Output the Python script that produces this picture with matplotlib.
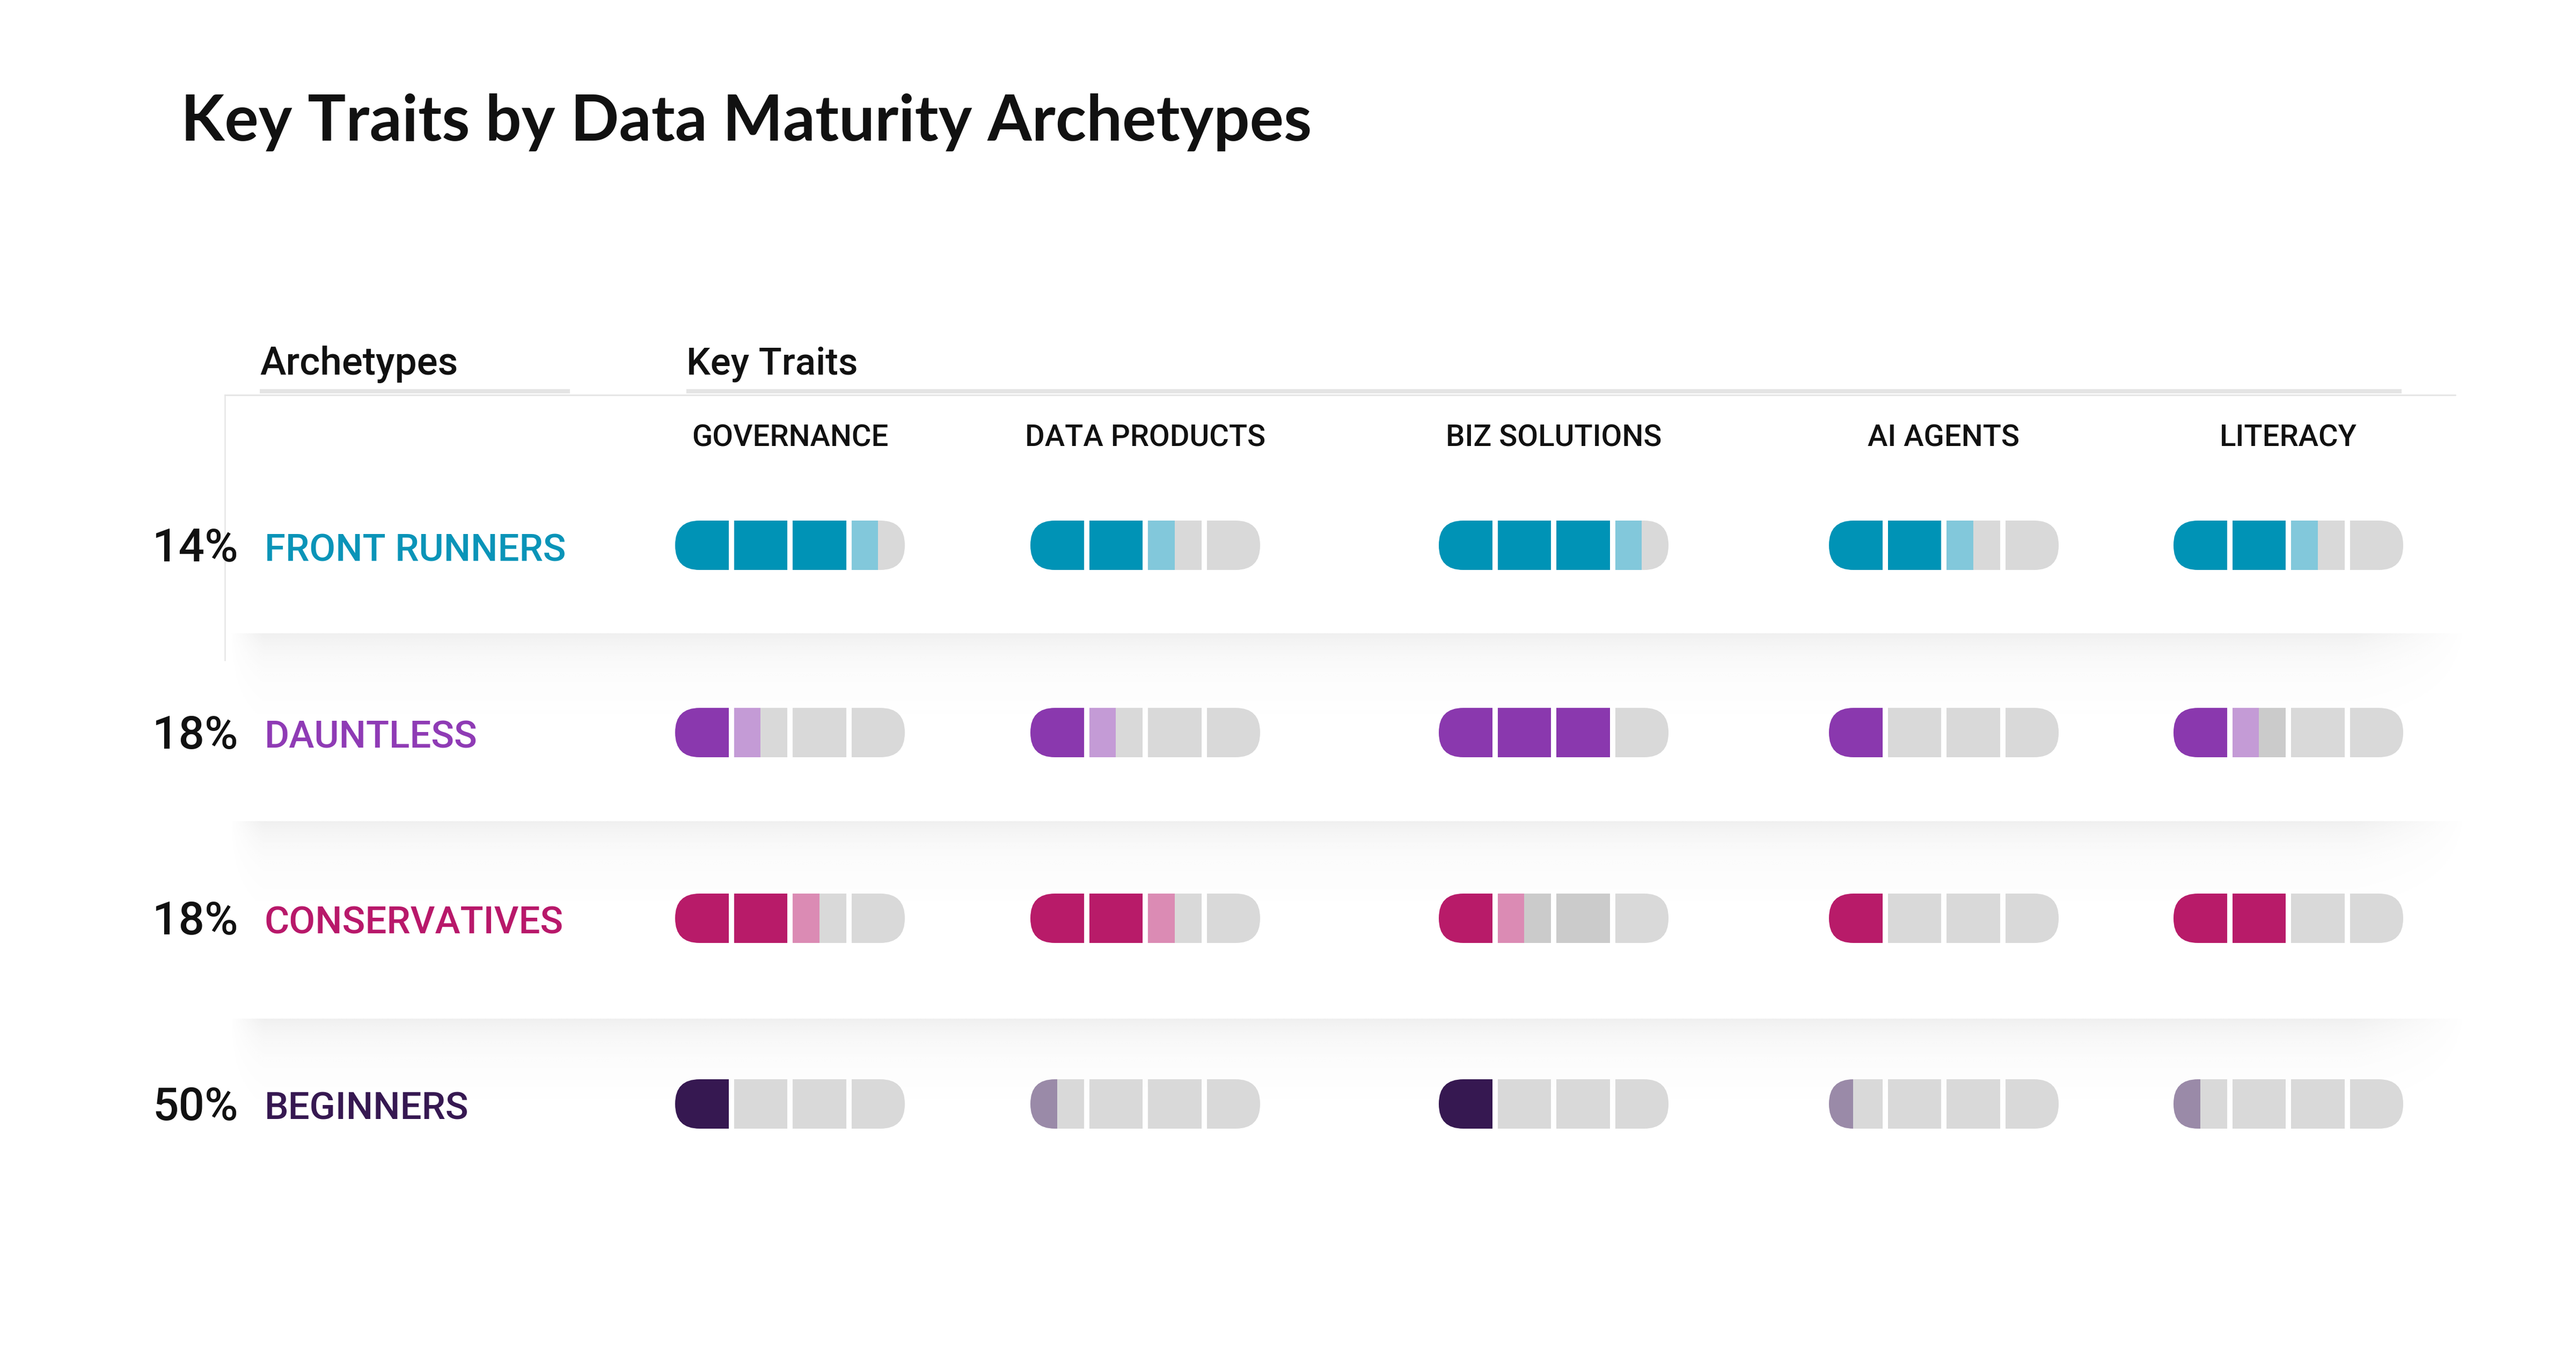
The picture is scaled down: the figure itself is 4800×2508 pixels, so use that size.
import matplotlib.pyplot as plt
from matplotlib.patches import FancyBboxPatch, Rectangle
import numpy as np

# canvas in pixels
W_PX, H_PX = 4800, 2508

# data
archetypes = ['FRONT RUNNERS', 'DAUNTLESS', 'CONSERVATIVES', 'BEGINNERS']
shares = ['14%', '18%', '18%', '50%']
traits = ['GOVERNANCE', 'DATA PRODUCTS', 'BIZ SOLUTIONS', 'AI AGENTS', 'LITERACY']

# score per archetype, out of 4 blocks (fractional part drawn in the light shade)
governance = [3.5, 1.5, 2.5, 1.0]
data_products = [2.5, 1.5, 2.5, 0.5]
biz_solutions = [3.5, 3.0, 1.5, 1.0]
ai_agents = [2.5, 1.0, 1.0, 0.45]
literacy = [2.5, 1.5, 2.0, 0.5]
scores = [governance, data_products, biz_solutions, ai_agents, literacy]

# blocks that are drawn in a slightly darker grey in the original: (row, col) -> blocks
darker_grey = {(1, 4): [1], (2, 2): [1, 2]}

dark_colors = ['#0093b6', '#8a38ae', '#b81b69', '#361851']
light_colors = ['#82c8db', '#c49bd6', '#db8bb4', '#9a8aa8']
name_colors = ['#0a94b8', '#8f3bb5', '#b8186a', '#361851']
GREY = '#d9d9d9'
GREY2 = '#cbcbcb'

# layout
row_y = [1016, 1365, 1711, 2057]
col_x = [1258, 1920, 2681, 3408, 4050]
PILL_W = 428
PILL_H = 92
GAP = 10
BLOCKS = 4

TITLE_FONT = 'Lato'
FONT = 'Roboto'


def draw_pill(ax, x0, yc, score, dark, light, greys):
    '''Draws one rounded pill made of 4 blocks'''
    clip = FancyBboxPatch((x0, yc - PILL_H / 2), PILL_W, PILL_H,
                          boxstyle='round,pad=0,rounding_size=%f' % (PILL_H / 2 - 0.5),
                          fc='none', ec='none')
    ax.add_patch(clip)
    seg_w = (PILL_W - (BLOCKS - 1) * GAP) / BLOCKS
    for i in range(BLOCKS):
        sx = x0 + i * (seg_w + GAP)
        fill = min(max(score - i, 0), 1)
        if fill >= 1:
            parts = [(sx, seg_w, dark)]
        elif fill > 0:
            parts = [(sx, seg_w * fill, light), (sx + seg_w * fill, seg_w * (1 - fill), greys[i])]
        else:
            parts = [(sx, seg_w, greys[i])]
        for px, pw, c in parts:
            r = Rectangle((px, yc - PILL_H / 2), pw, PILL_H, fc=c, ec='none', zorder=3)
            r.set_clip_path(clip)
            ax.add_patch(r)


def shadow(ax, y0, h=150):
    '''soft grey shade under a row band'''
    ny, nx = 80, 600
    yy = np.linspace(0, 1, ny)[:, None]
    xx = np.linspace(0, 1, nx)[None, :]
    alpha = 0.10 * np.exp(-yy * 3.0) * np.clip((1 - xx) / 0.05, 0, 1) * np.clip(xx / 0.015, 0, 1)
    img = np.zeros((ny, nx, 4))
    img[..., :3] = 0.4
    img[..., 3] = alpha
    ax.imshow(img, extent=(425, 4600, y0 + h, y0), aspect='auto',
              interpolation='bilinear', zorder=1)


fig = plt.figure(figsize=(W_PX / 300, H_PX / 300), dpi=300)
ax = fig.add_axes([0, 0, 1, 1])
ax.axis('off')

# title
ax.text(337, 262, 'Key Traits by Data Maturity Archetypes', fontsize=28.5, fontweight='bold',
        family=TITLE_FONT, color='#111111', va='baseline', ha='left')

# header
ax.text(484, 698, 'Archetypes', fontsize=17.5, fontweight='medium', family=FONT,
        color='#111111', va='baseline')
ax.text(1279, 698, 'Key Traits', fontsize=17, fontweight='medium', family=FONT,
        color='#111111', va='baseline')
ax.plot([484, 1062], [729, 729], color='#e4e4e4', lw=1.9, solid_capstyle='butt', zorder=2)
ax.plot([1279, 4475], [729, 729], color='#e4e4e4', lw=1.9, solid_capstyle='butt', zorder=2)
ax.plot([419, 4575], [736, 736], color='#e2e2e2', lw=0.6, zorder=2)
ax.plot([419, 419], [736, 1230], color='#e6e6e6', lw=0.6, zorder=2)

# trait column headers
for j, t in enumerate(traits):
    ax.text(col_x[j] + PILL_W / 2, 832, t, fontsize=13.5, fontweight='medium', family=FONT,
            color='#111111', ha='center', va='baseline')

# row shades
for yb in [1180, 1530, 1898]:
    shadow(ax, yb)

# rows
for i, name in enumerate(archetypes):
    yc = row_y[i]
    ax.text(444, yc + 30, shares[i], fontsize=20.5, fontweight='medium', family=FONT,
            color='#111111', ha='right', va='baseline')
    ax.text(493, yc + 29, name, fontsize=17, fontweight='medium', family=FONT,
            color=name_colors[i], ha='left', va='baseline')
    for j in range(len(traits)):
        greys = [GREY2 if b in darker_grey.get((i, j), []) else GREY for b in range(BLOCKS)]
        draw_pill(ax, col_x[j], yc, scores[j][i], dark_colors[i], light_colors[i], greys)

ax.set_xlim(0, W_PX)
ax.set_ylim(H_PX, 0)

fig.savefig('out.png', dpi=300, facecolor='white')
